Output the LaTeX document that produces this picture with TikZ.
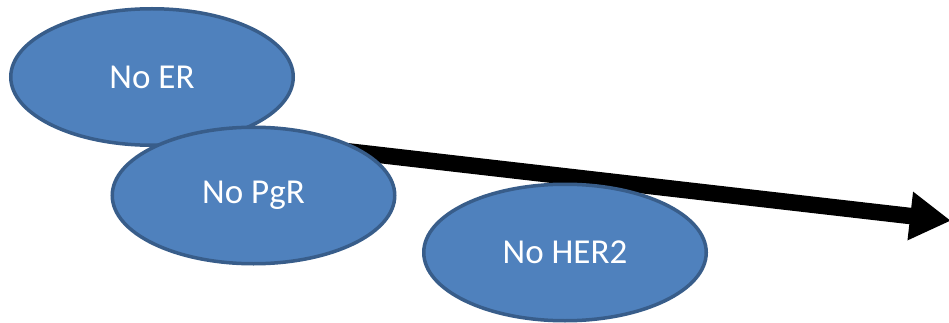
\documentclass[tikz,border=0pt]{standalone}
\usepackage{fontspec}
\setmainfont{Carlito}
\usetikzlibrary{shapes.geometric,arrows.meta}
\definecolor{bubblefill}{HTML}{4F81BD}
\definecolor{bubbleedge}{HTML}{385D8A}
\begin{document}
\begin{tikzpicture}[x=1pt,y=-1pt,
  bubble/.style={ellipse, draw=bubbleedge, fill=bubblefill, line width=3.5pt,
    minimum width=282.5pt, minimum height=136.5pt, inner sep=0pt,
    text=white, font=\fontsize{35}{42}\selectfont},
  bigarrow/.style={line width=16.5pt, draw=black,
    -{Triangle[length=41pt,width=46pt]}}]
  \clip (0,0) rectangle (949,323);
  \fill[white] (0,0) rectangle (949,323);
  % trend arrow behind the bubbles
  \coordinate (s) at (300,145.8);
  \coordinate (t) at (951,220.7);
  \draw[bigarrow] (s) -- (t);
  % bubbles
  \node[bubble] (er)   at (152,77)    {No ER};
  \node[bubble] (pgr)  at (253.5,195.5) {No PgR};
  \node[bubble] (her2) at (565,252.5) {No HER2};
\end{tikzpicture}
\end{document}
